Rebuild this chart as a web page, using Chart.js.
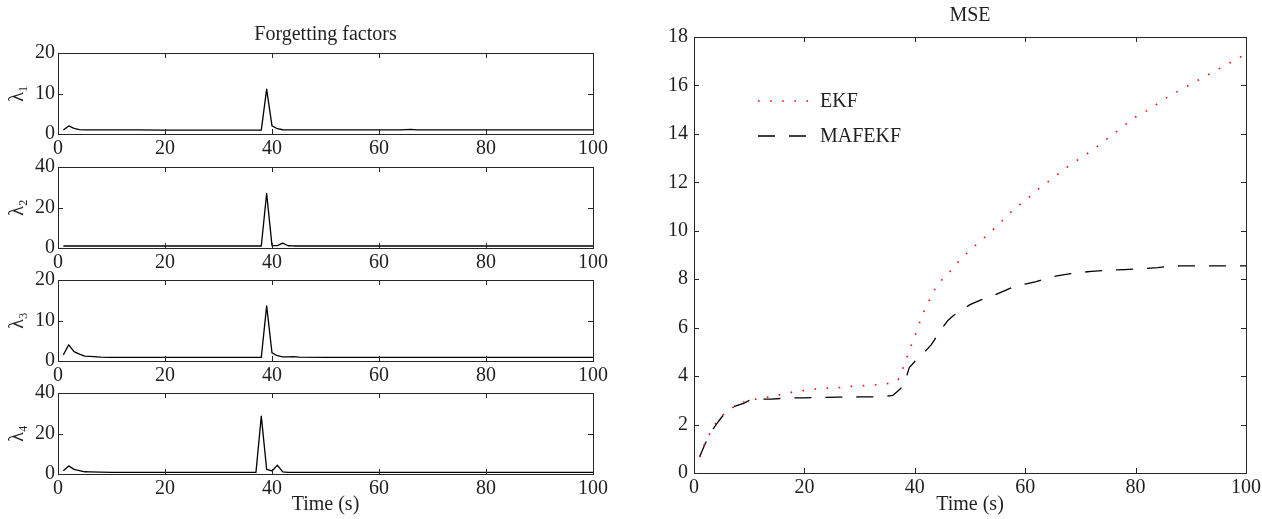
<!DOCTYPE html>
<html>
<head>
<meta charset="utf-8">
<script src="https://cdn.jsdelivr.net/npm/chart.js@4.4.1/dist/chart.umd.min.js"></script>
<style>
  html, body { margin: 0; padding: 0; background: #fff; }
  #wrap { position: relative; width: 1262px; height: 519px; overflow: hidden; background: #fff; }
  #wrap canvas { position: absolute; }
</style>
</head>
<body>
<div id="wrap">
  <canvas id="lam1"></canvas>
  <canvas id="lam2"></canvas>
  <canvas id="lam3"></canvas>
  <canvas id="lam4"></canvas>
  <canvas id="mse"></canvas>
</div>
<script>
// Datos (tiempo en s)
const tLam = [1, 2, 3, 4, 5, 6, 8, 10, 15, 20, 25, 30, 35, 36, 37, 38, 39, 40, 41, 42, 43, 44, 45, 50, 55, 60, 64, 65, 66, 67, 70, 75, 80, 85, 90, 95, 100];
const lambda1 = [1.0, 2.0, 1.4, 1.1, 1.0, 1.0, 1.0, 1.0, 1.0, 0.95, 0.95, 0.95, 0.95, 0.95, 0.95, 0.95, 11.1, 2.0, 1.3, 1.05, 1.0, 1.0, 1.0, 1.0, 1.0, 1.0, 1.0, 1.1, 1.15, 1.0, 1.0, 1.0, 1.0, 1.0, 1.0, 1.0, 1.0];
const lambda2 = [1.0, 1.0, 1.0, 1.0, 1.0, 1.0, 1.0, 1.0, 1.0, 1.0, 1.0, 1.0, 1.0, 1.0, 1.0, 1.0, 27.0, 1.2, 1.2, 2.4, 1.1, 1.0, 1.0, 1.0, 1.0, 1.0, 1.0, 1.0, 1.0, 1.0, 1.0, 1.0, 1.0, 1.0, 1.0, 1.0, 1.0];
const lambda3 = [1.5, 4.0, 2.3, 1.7, 1.2, 1.15, 0.95, 0.9, 0.9, 0.9, 0.9, 0.9, 0.9, 0.9, 0.9, 0.9, 13.6, 2.0, 1.3, 1.0, 1.0, 1.1, 0.95, 0.9, 0.9, 0.9, 0.9, 0.9, 0.9, 0.9, 0.9, 0.9, 0.9, 0.9, 0.9, 0.9, 0.9];
const lambda4 = [1.6, 4.0, 2.3, 1.7, 1.1, 1.0, 0.9, 0.8, 0.8, 0.8, 0.8, 0.8, 0.8, 0.8, 0.8, 28.6, 2.3, 1.5, 4.4, 1.0, 0.8, 0.8, 0.8, 0.8, 0.8, 0.8, 0.8, 0.8, 0.8, 0.8, 0.8, 0.8, 0.8, 0.8, 0.8, 0.8, 0.8];

const tMse = [1, 2, 3, 4, 5, 6, 7, 8, 9, 10, 12, 14, 16, 18, 20, 22, 24, 26, 28, 30, 32, 34, 36, 37, 38, 39, 40, 41, 42, 43, 44, 45, 46, 47, 48, 50, 52, 54, 56, 58, 60, 62, 64, 66, 68, 70, 72, 74, 76, 78, 80, 82, 84, 86, 88, 90, 92, 94, 96, 98, 100];
const mseEKF = [0.66, 1.25, 1.7, 2.08, 2.35, 2.55, 2.7, 2.82, 2.93, 3.0, 3.08, 3.16, 3.25, 3.35, 3.41, 3.47, 3.5, 3.52, 3.57, 3.6, 3.62, 3.66, 3.72, 3.85, 4.4, 5.05, 5.65, 6.3, 6.85, 7.3, 7.75, 8.0, 8.2, 8.5, 8.75, 9.2, 9.6, 10.0, 10.45, 10.9, 11.25, 11.65, 12.0, 12.35, 12.7, 13.0, 13.3, 13.65, 14.0, 14.35, 14.7, 14.95, 15.25, 15.55, 15.8, 16.05, 16.3, 16.55, 16.8, 17.05, 17.3];
const mseMAFEKF = [0.66, 1.2, 1.65, 2.0, 2.3, 2.55, 2.72, 2.8, 2.87, 3.0, 3.05, 3.05, 3.08, 3.1, 3.1, 3.12, 3.12, 3.13, 3.13, 3.14, 3.14, 3.15, 3.2, 3.4, 3.6, 4.35, 4.6, 4.8, 5.05, 5.3, 5.65, 6.0, 6.3, 6.5, 6.65, 6.95, 7.15, 7.3, 7.5, 7.7, 7.8, 7.9, 8.05, 8.15, 8.22, 8.28, 8.32, 8.36, 8.38, 8.4, 8.42, 8.45, 8.48, 8.53, 8.55, 8.55, 8.55, 8.55, 8.55, 8.55, 8.55];

const xTicks = [0, 20, 40, 60, 80, 100];
const yTicks20 = [0, 10, 20];
const yTicks40 = [0, 20, 40];
const yTicksMse = [0, 2, 4, 6, 8, 10, 12, 14, 16, 18];

const FONT = { family: "'Liberation Serif', 'Times New Roman', serif", size: 20, weight: 'normal' };
const TXT = '#1f1f1f';

Chart.defaults.font.family = FONT.family;
Chart.defaults.color = TXT;

// caja estilo MATLAB con marcas hacia dentro
const boxPlugin = {
  id: 'matlabBox',
  afterDraw(chart) {
    const { ctx, chartArea: a, scales } = chart;
    const x = scales.x, y = scales.y;
    ctx.save();
    ctx.strokeStyle = '#262626';
    ctx.lineWidth = 1;
    ctx.strokeRect(Math.round(a.left) + 0.5, Math.round(a.top) + 0.5, Math.round(a.right - a.left), Math.round(a.bottom - a.top));
    ctx.beginPath();
    x.ticks.forEach((t, i) => {
      const px = Math.round(x.getPixelForTick(i)) + 0.5;
      ctx.moveTo(px, a.bottom); ctx.lineTo(px, a.bottom - 5);
      ctx.moveTo(px, a.top); ctx.lineTo(px, a.top + 5);
    });
    y.ticks.forEach((t, i) => {
      const py = Math.round(y.getPixelForTick(i)) + 0.5;
      ctx.moveTo(a.left, py); ctx.lineTo(a.left + 5, py);
      ctx.moveTo(a.right, py); ctx.lineTo(a.right - 5, py);
    });
    ctx.stroke();
    ctx.restore();
  }
};

// leyenda dentro del área de datos
const innerLegend = {
  id: 'innerLegend',
  afterDraw(chart) {
    const { ctx, chartArea: a } = chart;
    ctx.save();
    chart.data.datasets.forEach((ds, i) => {
      const yy = a.top + 64 + i * 35;
      ctx.beginPath();
      ctx.strokeStyle = ds.borderColor;
      ctx.lineWidth = ds.borderWidth;
      ctx.setLineDash(ds.borderDash || []);
      ctx.moveTo(a.left + 64, yy);
      ctx.lineTo(a.left + 114, yy);
      ctx.stroke();
      ctx.setLineDash([]);
      ctx.fillStyle = TXT;
      ctx.font = FONT.size + 'px ' + FONT.family;
      ctx.textBaseline = 'middle';
      ctx.fillText(ds.label, a.left + 126, yy + 1);
    });
    ctx.restore();
  }
};

function pts(ts, vs) {
  return ts.map((t, i) => ({ x: t, y: vs[i] }));
}

function setTicks(list) {
  return s => { s.ticks = list.map(v => ({ value: v })); };
}

const noGrid = { display: false, drawTicks: false };

function lambdaChart(id, box, values, yMax, yTicks, label, titleText, xTitle) {
  const cv = document.getElementById(id);
  cv.width = 620; cv.height = box.h;
  cv.style.left = '0px'; cv.style.top = box.top + 'px';
  return new Chart(cv, {
    type: 'line',
    data: {
      datasets: [{
        data: pts(tLam, values),
        borderColor: '#000',
        borderWidth: 1.3,
        borderJoinStyle: 'round',
        pointRadius: 0,
        tension: 0,
        fill: false
      }]
    },
    options: {
      responsive: false,
      animation: false,
      events: [],
      layout: { padding: { top: box.padTop, right: 27, left: 0, bottom: 0 } },
      plugins: {
        legend: { display: false },
        tooltip: { enabled: false },
        title: {
          display: !!titleText,
          text: titleText || '',
          fullSize: false,
          font: FONT,
          color: TXT,
          padding: { top: 23, bottom: 6 }
        }
      },
      scales: {
        x: {
          type: 'linear', min: 0, max: 100,
          afterBuildTicks: setTicks(xTicks),
          afterFit: s => { s.height = box.xh; s.paddingLeft = 0; s.paddingRight = 0; },
          grid: noGrid, border: { display: false },
          ticks: { font: FONT, color: TXT, padding: 3, maxRotation: 0, autoSkip: false },
          title: { display: !!xTitle, text: xTitle || '', font: FONT, color: TXT, padding: { top: 0, bottom: 2 } }
        },
        y: {
          type: 'linear', min: 0, max: yMax,
          afterBuildTicks: setTicks(yTicks),
          afterFit: s => { s.width = 58; s.paddingTop = 0; s.paddingBottom = 0; },
          grid: noGrid, border: { display: false },
          ticks: { font: FONT, color: TXT, padding: 3, autoSkip: false },
          title: { display: true, text: label, font: FONT, color: TXT, padding: { top: 6, bottom: 0 } }
        }
      }
    },
    plugins: [boxPlugin]
  });
}

lambdaChart('lam1', { top: 0, h: 164, padTop: 0, xh: 30 }, lambda1, 20, yTicks20, 'λ₁', 'Forgetting factors');
lambdaChart('lam2', { top: 155, h: 123, padTop: 12, xh: 30 }, lambda2, 40, yTicks40, 'λ₂');
lambdaChart('lam3', { top: 268, h: 123, padTop: 12, xh: 30 }, lambda3, 20, yTicks20, 'λ₃');
lambdaChart('lam4', { top: 381, h: 138, padTop: 12, xh: 45 }, lambda4, 40, yTicks40, 'λ₄', null, 'Time (s)');

// gráfica MSE
(function () {
  const cv = document.getElementById('mse');
  cv.width = 622; cv.height = 519;
  cv.style.left = '640px'; cv.style.top = '0px';
  new Chart(cv, {
    type: 'line',
    data: {
      datasets: [
        {
          label: 'EKF',
          data: pts(tMse, mseEKF),
          borderColor: '#ff0000',
          borderWidth: 1.6,
          borderDash: [1.6, 10.5],
          pointRadius: 0, tension: 0, fill: false
        },
        {
          label: 'MAFEKF',
          data: pts(tMse, mseMAFEKF),
          borderColor: '#000000',
          borderWidth: 1.3,
          borderDash: [17, 14],
          pointRadius: 0, tension: 0, fill: false
        }
      ]
    },
    options: {
      responsive: false,
      animation: false,
      events: [],
      layout: { padding: { top: 0, right: 16, left: 0, bottom: 0 } },
      plugins: {
        legend: { display: false },
        tooltip: { enabled: false },
        title: {
          display: true, text: 'MSE', fullSize: false,
          font: FONT, color: TXT, padding: { top: 4, bottom: 9 }
        }
      },
      scales: {
        x: {
          type: 'linear', min: 0, max: 100,
          afterBuildTicks: setTicks(xTicks),
          afterFit: s => { s.height = 46; s.paddingLeft = 0; s.paddingRight = 0; },
          grid: noGrid, border: { display: false },
          ticks: { font: FONT, color: TXT, padding: 3, maxRotation: 0, autoSkip: false },
          title: { display: true, text: 'Time (s)', font: FONT, color: TXT, padding: { top: 0, bottom: 2 } }
        },
        y: {
          type: 'linear', min: 0, max: 18,
          afterBuildTicks: setTicks(yTicksMse),
          afterFit: s => { s.width = 54; s.paddingTop = 0; s.paddingBottom = 0; },
          grid: noGrid, border: { display: false },
          ticks: { font: FONT, color: TXT, padding: 6, autoSkip: false }
        }
      }
    },
    plugins: [boxPlugin, innerLegend]
  });
})();
</script>
</body>
</html>
